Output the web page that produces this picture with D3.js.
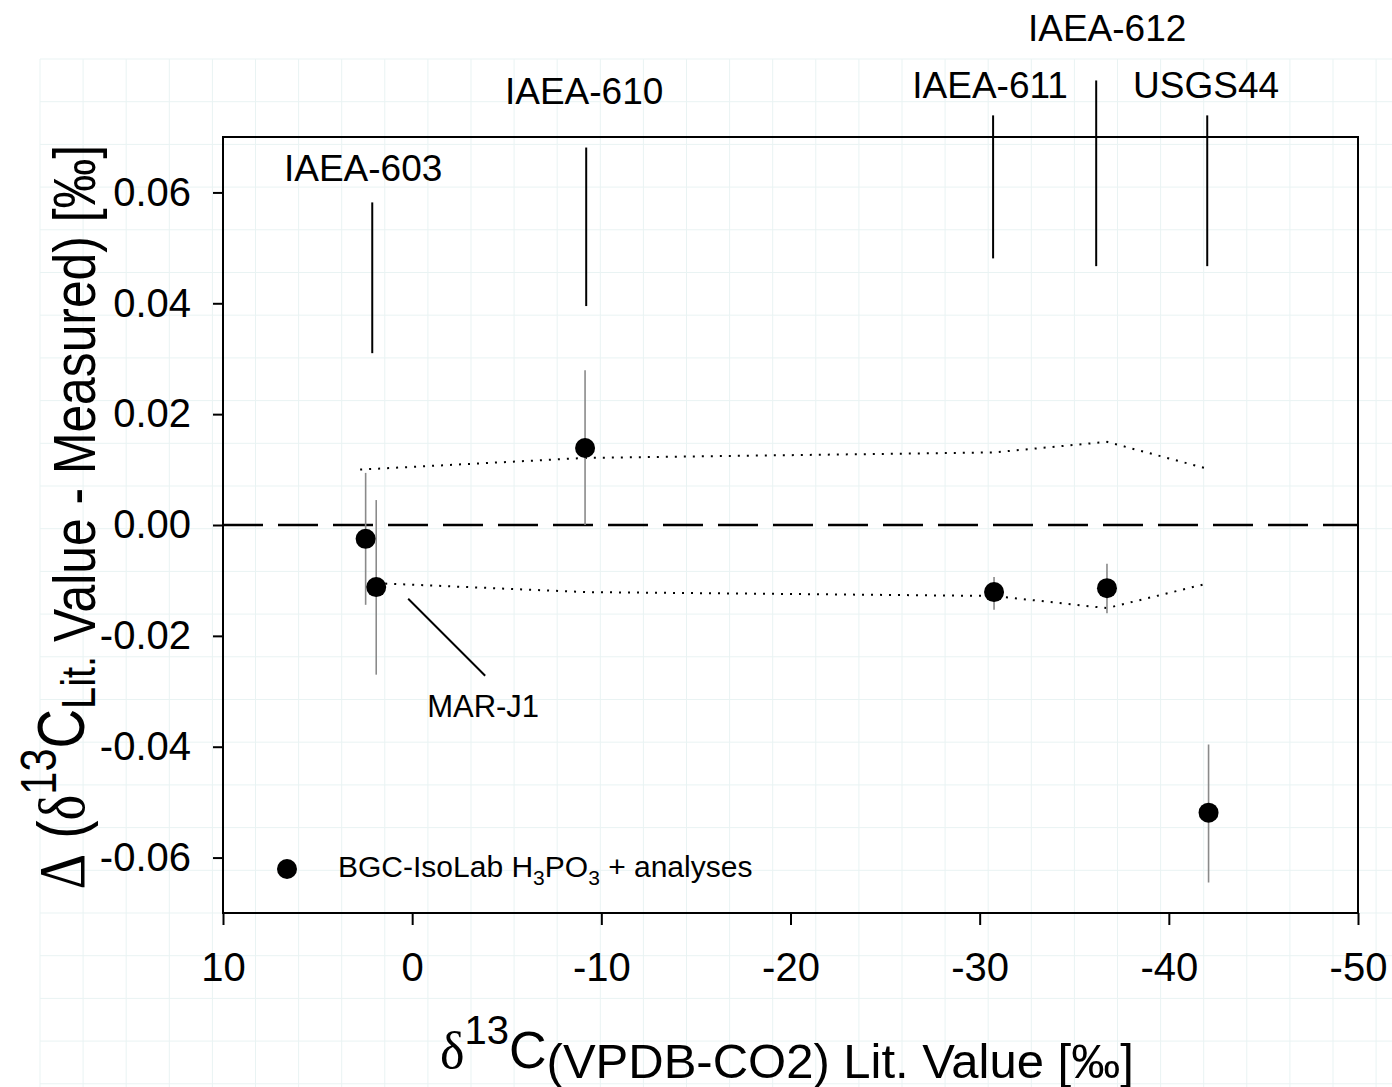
<!DOCTYPE html>
<html>
<head>
<meta charset="utf-8">
<script src="https://d3js.org/d3.v7.min.js"></script>
<style>
  body { margin: 0; background: #fff; }
  svg text { font-family: "Liberation Sans", Arial, sans-serif; fill: #000; }
  .sym { font-family: "Liberation Serif", "DejaVu Serif", serif; }
</style>
</head>
<body>
<svg id="chart" width="1392" height="1087"></svg>
<script>
// reference materials, literature value vs. offset
var names    = ["IAEA-603", "MAR-J1", "IAEA-610", "IAEA-611", "IAEA-612", "USGS44"];
var litValue = [2.46, 1.90, -9.14, -30.76, -36.73, -42.10];
var delta    = [-0.0025, -0.0112, 0.0139, -0.0121, -0.0114, -0.0519];
var errLow   = [-0.0144, -0.0270, 0.0000, -0.0153, -0.0159, -0.0645];
var errHigh  = [0.0094, 0.0045, 0.0279, -0.0094, -0.0070, -0.0396];

// dotted uncertainty envelope
var upperX = [2.75, -9.14, -30.76, -36.73, -42.10];
var upperY = [0.0100, 0.0121, 0.0131, 0.0150, 0.0101];
var lowerX = [1.90, -9.14, -30.76, -36.73, -42.10];
var lowerY = [-0.0105, -0.0121, -0.0128, -0.0150, -0.0105];

var xTicks = [10, 0, -10, -20, -30, -40, -50];
var yTicks = [0.06, 0.04, 0.02, 0.00, -0.02, -0.04, -0.06];

// label callouts (in data units)
var calloutNames = ["IAEA-603", "IAEA-610", "IAEA-611", "IAEA-612", "USGS44"];
var calloutX     = [2.11, -9.20, -30.71, -36.16, -42.03];
var calloutTop   = [0.0582, 0.0681, 0.0739, 0.0802, 0.0739];
var calloutBot   = [0.0310, 0.0395, 0.0481, 0.0467, 0.0467];
var labelX       = [2.59, -9.09, -30.55, -36.74, -41.97];
var labelY       = [0.0620, 0.0759, 0.0771, 0.0874, 0.0771];

var svg = d3.select("#chart");
var W = +svg.attr("width"), H = +svg.attr("height");
var margin = {left: 223, top: 137, right: 34, bottom: 174};
var width = W - margin.left - margin.right,
    height = H - margin.top - margin.bottom;

svg.append("rect").attr("width", W).attr("height", H).attr("fill", "#fff");

// faint background grid of the scanned page
var bg = svg.append("g").attr("stroke", "#e9f3f3").attr("stroke-width", 1);
d3.range(40, W, 43.1).forEach(function(x) {
  bg.append("line").attr("x1", x).attr("x2", x).attr("y1", 59).attr("y2", H);
});
d3.range(59, H, 42.7).forEach(function(y) {
  bg.append("line").attr("x1", 40).attr("x2", W).attr("y1", y).attr("y2", y);
});

var g = svg.append("g").attr("transform", "translate(" + margin.left + "," + margin.top + ")");

var x = d3.scaleLinear().domain([10, -50]).range([0, width]);
var y = d3.scaleLinear().domain([-0.07, 0.07]).range([height, 0]);

// zero line
g.append("line")
  .attr("x1", 0).attr("x2", width)
  .attr("y1", y(0)).attr("y2", y(0))
  .attr("stroke", "#000").attr("stroke-width", 2.5)
  .attr("stroke-dasharray", "40,15");

// envelope
var line = d3.line().x(function(d) { return x(d[0]); }).y(function(d) { return y(d[1]); });
[d3.zip(upperX, upperY), d3.zip(lowerX, lowerY)].forEach(function(pts) {
  g.append("path").datum(pts).attr("d", line)
    .attr("fill", "none").attr("stroke", "#000").attr("stroke-width", 2)
    .attr("stroke-dasharray", "2,7");
});

// error bars
var pts = names.map(function(n, i) {
  return {name: n, x: litValue[i], y: delta[i], lo: errLow[i], hi: errHigh[i]};
});
g.selectAll(".err").data(pts).enter().append("line")
  .attr("class", "err")
  .attr("x1", function(d) { return x(d.x); }).attr("x2", function(d) { return x(d.x); })
  .attr("y1", function(d) { return y(d.lo); }).attr("y2", function(d) { return y(d.hi); })
  .attr("stroke", "#8a8a8a").attr("stroke-width", 1.6);

g.selectAll(".dot").data(pts).enter().append("circle")
  .attr("class", "dot")
  .attr("cx", function(d) { return x(d.x); })
  .attr("cy", function(d) { return y(d.y); })
  .attr("r", 10).attr("fill", "#000");

// axes
var xAxis = g.append("g").attr("transform", "translate(0," + height + ")")
  .call(d3.axisBottom(x).tickValues(xTicks).tickSize(12).tickPadding(28).tickFormat(d3.format("d")));
var yAxis = g.append("g")
  .call(d3.axisLeft(y).tickValues(yTicks).tickSize(10).tickPadding(22).tickFormat(d3.format(".2f")));
[xAxis, yAxis].forEach(function(a) {
  a.select(".domain").remove();
  a.selectAll(".tick line").attr("stroke", "#000").attr("stroke-width", 2);
  a.selectAll(".tick text").attr("font-size", 40).attr("font-family", "Liberation Sans, Arial, sans-serif").attr("fill", "#000");
});
yAxis.selectAll(".tick text").text(function(d) { return d3.format(".2f")(d).replace("−", "-"); });
xAxis.selectAll(".tick text").text(function(d) { return String(d); });

// frame
g.append("rect").attr("width", width).attr("height", height)
  .attr("fill", "none").attr("stroke", "#000").attr("stroke-width", 2);

// callouts above the points
calloutNames.forEach(function(n, i) {
  g.append("line")
    .attr("x1", x(calloutX[i])).attr("x2", x(calloutX[i]))
    .attr("y1", y(calloutTop[i])).attr("y2", y(calloutBot[i]))
    .attr("stroke", "#000").attr("stroke-width", 2);
  g.append("text")
    .attr("x", x(labelX[i])).attr("y", y(labelY[i]))
    .attr("text-anchor", "middle").attr("font-size", 37)
    .text(n);
});

// MAR-J1 leader
g.append("line")
  .attr("x1", x(0.21)).attr("y1", y(-0.0133))
  .attr("x2", x(-3.86)).attr("y2", y(-0.0272))
  .attr("stroke", "#000").attr("stroke-width", 2);
g.append("text").attr("x", x(-3.75)).attr("y", y(-0.0346))
  .attr("text-anchor", "middle").attr("font-size", 31).text("MAR-J1");

// legend
g.append("circle").attr("cx", 64).attr("cy", 732).attr("r", 10).attr("fill", "#000");
var lt = g.append("text").attr("x", 115).attr("y", 740).attr("font-size", 30);
lt.append("tspan").text("BGC-IsoLab H");
lt.append("tspan").attr("font-size", 21).attr("dy", 8).text("3");
lt.append("tspan").attr("dy", -8).text("PO");
lt.append("tspan").attr("font-size", 21).attr("dy", 8).text("3");
lt.append("tspan").attr("dy", -8).text(" + analyses");

// x axis title
var xt = svg.append("text").attr("x", 440).attr("y", 1068).attr("font-size", 52);
xt.append("tspan").attr("class", "sym").text("δ");
xt.append("tspan").attr("font-size", 40).attr("dy", -24).text("13");
xt.append("tspan").attr("dy", 24).text("C");
xt.append("tspan").attr("font-size", 49).attr("dy", 10).text("(VPDB-CO2) Lit. Value [‰]");

// y axis title (tall, condensed lettering)
var yt = svg.append("text").attr("transform", "translate(84,517) rotate(-90) scale(0.83,1)")
  .attr("text-anchor", "middle").attr("font-size", 66);
yt.append("tspan").attr("class", "sym").text("Δ");
yt.append("tspan").text(" (");
yt.append("tspan").attr("class", "sym").text("δ");
yt.append("tspan").attr("font-size", 50).attr("dy", -28).text("13");
yt.append("tspan").attr("dy", 28).text("C");
yt.append("tspan").attr("font-size", 48).attr("dy", 11).text("Lit.");
yt.append("tspan").attr("font-size", 60).text(" Value - Measured) [‰]");
</script>
</body>
</html>
